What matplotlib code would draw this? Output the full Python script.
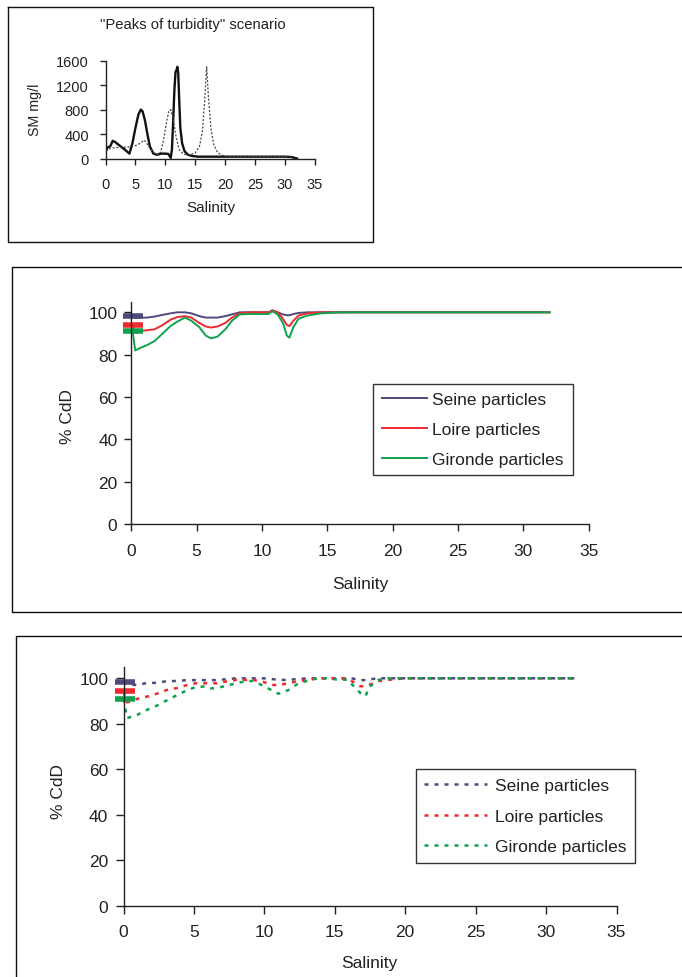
import matplotlib
matplotlib.use("Agg")
import matplotlib.pyplot as plt
from matplotlib.lines import Line2D

plt.rcParams['font.family'] = ['Liberation Sans', 'DejaVu Sans']

W, H = 682, 978

# ---------------- data ----------------
# Panel 1: suspended matter (SM mg/l) vs salinity
sm_solid_x = [0, 0.3, 0.8, 1.2, 1.6, 2.5, 3.3, 4.0, 4.5, 5.0, 5.5, 5.9, 6.2, 6.6, 7.0, 7.4, 8.0, 8.6,
              9.3, 10.0, 10.5, 10.9, 11.1, 11.3, 11.5, 11.7, 11.85, 12.0, 12.15, 12.3, 12.5, 12.8, 13.2,
              13.8, 14.5, 15.5, 20, 25, 30, 31, 32]
sm_solid_y = [100, 180, 200, 290, 270, 200, 140, 80, 250, 500, 720, 800, 770, 620, 400, 200, 80, 60,
              80, 80, 75, 10, 150, 600, 1100, 1420, 1440, 1500, 1400, 1000, 500, 250, 120,
              60, 40, 30, 30, 30, 30, 25, 0]
sm_dot_x = [0, 0.5, 1.0, 2.0, 3.0, 4.0, 5.0, 5.8, 6.5, 7.2, 7.8, 8.5, 9.2, 9.7, 10.2, 10.6, 10.9, 11.3,
            11.8, 12.3, 13.0, 14.0, 15.0, 15.7, 16.2, 16.6, 16.9, 17.2, 17.6, 18.1, 18.8, 19.8, 21, 25,
            30, 31.5]
sm_dot_y = [130, 150, 170, 180, 185, 190, 210, 250, 300, 200, 120, 60, 100, 300, 600, 780, 800, 650,
            350, 150, 70, 60, 90, 200, 450, 1000, 1500, 1000, 500, 220, 90, 40, 30, 30, 30, 30]

# Panel 2: % CdD, solid lines
x2 = [0.1, 0.3, 0.8, 1.2, 1.8, 2.4, 3.0, 3.5, 4.1, 4.6, 5.2, 5.7, 6.1, 6.6, 7.2, 7.7, 8.3, 9.0,
      10.0, 10.5, 10.8, 11.2, 11.6, 11.9, 12.1, 12.4, 12.8, 13.5, 14.5, 16.0, 20.0, 25.0, 32.0]
seine2 = [98, 97.3, 97.5, 97.5, 98, 98.8, 99.5, 100, 100, 99.5, 98.2, 97.5, 97.5, 97.5, 98.2, 99,
          100, 100, 100, 100, 100.5, 100, 99, 98.6, 98.6, 99.2, 99.7, 100, 100, 100, 100, 100, 100]
loire2 = [94, 90.3, 91.3, 91.5, 92, 94, 96.5, 97.7, 98.2, 97.5, 95, 93.3, 92.8, 93.3, 95, 97.5,
          99.5, 100, 100, 100, 101, 100, 97, 94, 93.5, 96, 98.5, 99.5, 100, 100, 100, 100, 100]
gironde2 = [91, 82, 83.5, 84.5, 86.5, 90, 93.5, 95.5, 97.5, 96, 93, 89, 87.7, 88.5, 92, 96,
            99, 99.2, 99.2, 99.2, 100.5, 99, 95, 89, 88, 93, 97, 98.5, 99.5, 100, 100, 100, 100]

# Panel 3: % CdD, dashed lines
x3 = [0.0, 0.25, 1.0, 1.7, 2.4, 3.1, 3.8, 4.5, 5.1, 5.75, 6.15, 6.6, 7.3, 8.0, 8.7, 9.2, 9.9, 10.5,
      11.0, 11.7, 12.4, 13.1, 13.8, 14.5, 15.2, 15.9, 16.2, 16.8, 17.2, 17.4, 18.1, 18.8, 20, 25, 32]
seine3 = [98.5, 97.1, 97.1, 98, 98, 98.8, 98.8, 99.2, 99.2, 99.2, 99.2, 99.2, 99.6, 100, 100, 100,
          100, 99.7, 99.3, 99.3, 99.7, 100, 100, 100, 100, 100, 100, 99.1, 99.3, 99.5, 100, 100,
          100, 100, 100]
loire3 = [94, 89.4, 91, 92, 93.3, 94.9, 95.7, 97, 97.8, 97.8, 97.8, 97.8, 98.6, 99.3, 99.3, 99.3,
          98.5, 97.1, 97, 97.8, 98.8, 99.3, 100, 100, 100, 100, 98.8, 96.5, 96.5, 97, 98.8, 99.3,
          100, 100, 100]
gironde3 = [91, 82.5, 84, 86.2, 88.1, 90.4, 92.6, 94.7, 96.1, 96.4, 95.5, 95.7, 96.7, 97.8, 98.8,
            98.8, 96.8, 94.8, 93.2, 94.8, 97.7, 99, 100, 100, 99.4, 99.4, 97.4, 93.6, 92.2, 96, 99.3,
            100, 100, 100, 100]

# initial values (markers at salinity 0)
init_x = 0.1
init_vals = [98.3, 94.2, 91.0]

labels = ["Seine particles", "Loire particles", "Gironde particles"]
colors = ["#4f4a7c", "#ee2a30", "#10a14e"]
xticks = [0, 5, 10, 15, 20, 25, 30, 35]
yticks_sm = [0, 400, 800, 1200, 1600]
yticks_cdd = [0, 20, 40, 60, 80, 100]

TXT = "#222222"

fig = plt.figure(figsize=(W / 100, H / 100), dpi=100)


def add_ax(l, t, r, b):
    return fig.add_axes([l / W, 1 - b / H, (r - l) / W, (b - t) / H])


def frame_lines(pts):
    xs = [p[0] / W for p in pts]
    ys = [1 - p[1] / H for p in pts]
    fig.add_artist(Line2D(xs, ys, color="#111111", lw=1.0, transform=fig.transFigure))


def style_axes(ax, fs, tl, padx, pady):
    for s in ("top", "right"):
        ax.spines[s].set_visible(False)
    for s in ("left", "bottom"):
        ax.spines[s].set_color("#222222")
        ax.spines[s].set_linewidth(1.0)
    ax.tick_params(axis="both", direction="out", length=tl, width=1.0, color="#222222",
                   labelsize=fs, labelcolor=TXT)
    ax.tick_params(axis="x", pad=padx)
    ax.tick_params(axis="y", pad=pady)
    ax.set_facecolor("none")


# ---------------- panel 1 ----------------
frame_lines([(8, 7.5), (372.5, 7.5), (372.5, 242.5), (8, 242.5), (8, 7.5)])
l1, t1, r1, b1 = 105.5, 61.7, 315, 159.5
ax1 = add_ax(l1, t1, r1, b1)
ax1.plot(sm_solid_x, sm_solid_y, color="#111111", lw=1.7)
ax1.plot(sm_dot_x, sm_dot_y, color="#444444", lw=0.9, linestyle=(0, (1.6, 1.4)))
ax1.set_xlim(0, 35)
ax1.set_ylim(0, 1600)
ax1.set_xticks(xticks)
ax1.set_yticks(yticks_sm)
style_axes(ax1, 10.5, 4, 9, 8)
ax1.set_xlabel("Salinity", fontsize=11, color=TXT, va="center")
ax1.xaxis.set_label_coords((211 - l1) / (r1 - l1), (b1 - 208) / (b1 - t1))
ax1.set_ylabel("SM mg/l", fontsize=10.3, color=TXT, va="center")
ax1.yaxis.set_label_coords((35 - l1) / (r1 - l1), (b1 - 110) / (b1 - t1))
fig.text(193 / W, 1 - 25.5 / H, '"Peaks of turbidity" scenario', ha="center", va="center",
         fontsize=10.7, color=TXT)


def cdd_panel(l, y0px, r, ppu, xs, series, ls, lw, leg_pos, hlen, htp, lspace, label_pos,
              padx, pady, tl, bpad):
    top = y0px - 105 * ppu
    ax = add_ax(l, top, r, y0px)
    handles = []
    for ys, c, lab in zip(series, colors, labels):
        h, = ax.plot(xs, ys, color=c, lw=lw, linestyle=ls, label=lab, clip_on=False)
        handles.append(h)
    for v, c in zip(init_vals, colors):
        ax.plot([init_x], [v], marker="_", markersize=14, mew=4.0, color=c, clip_on=False,
                linestyle="none")
    ax.set_xlim(0, 35)
    ax.set_ylim(0, 105)
    ax.set_xticks(xticks)
    ax.set_yticks(yticks_cdd)
    style_axes(ax, 12.5, tl, padx, pady)
    ax.set_xlabel("Salinity", fontsize=12.5, color=TXT, va="center")
    ax.xaxis.set_label_coords((label_pos[0] - l) / (r - l), (y0px - label_pos[1]) / (y0px - top))
    ax.set_ylabel("% CdD", fontsize=12.5, color=TXT, va="center")
    ax.yaxis.set_label_coords((label_pos[2] - l) / (r - l), (y0px - label_pos[3]) / (y0px - top))
    leg = ax.legend(handles=handles, loc="upper left",
                    bbox_to_anchor=(leg_pos[0] / W, 1 - leg_pos[1] / H),
                    bbox_transform=fig.transFigure, borderaxespad=0, fontsize=12.5,
                    handlelength=hlen, handletextpad=htp, labelspacing=lspace,
                    borderpad=bpad, fancybox=False, framealpha=1, edgecolor="#333333",
                    labelcolor=TXT)
    leg.get_frame().set_linewidth(1.0)
    return ax


# ---------------- panel 2 ----------------
frame_lines([(682, 268), (12, 268), (12, 612.5), (682, 612.5)])
cdd_panel(131.3, 525, 588.7, 2.117, x2, [seine2, loire2, gironde2], "-", 1.4,
          (373.3, 384.5), 2.6, 0.3, 0.84, (360, 585, 67.5, 417), 8.5, 5, 5, 0.5)

# ---------------- panel 3 ----------------
frame_lines([(682, 637), (15.7, 637), (15.7, 978)])
cdd_panel(123.5, 906.7, 616.5, 2.274, x3, [seine3, loire3, gironde3], (0, (1.6, 2.4)), 1.8,
          (415.7, 770), 3.6, 0.45, 0.9, (369.6, 963.3, 58.7, 791.7), 7.5, 5, 6, 0.5)

fig.savefig("out.png", dpi=100)
